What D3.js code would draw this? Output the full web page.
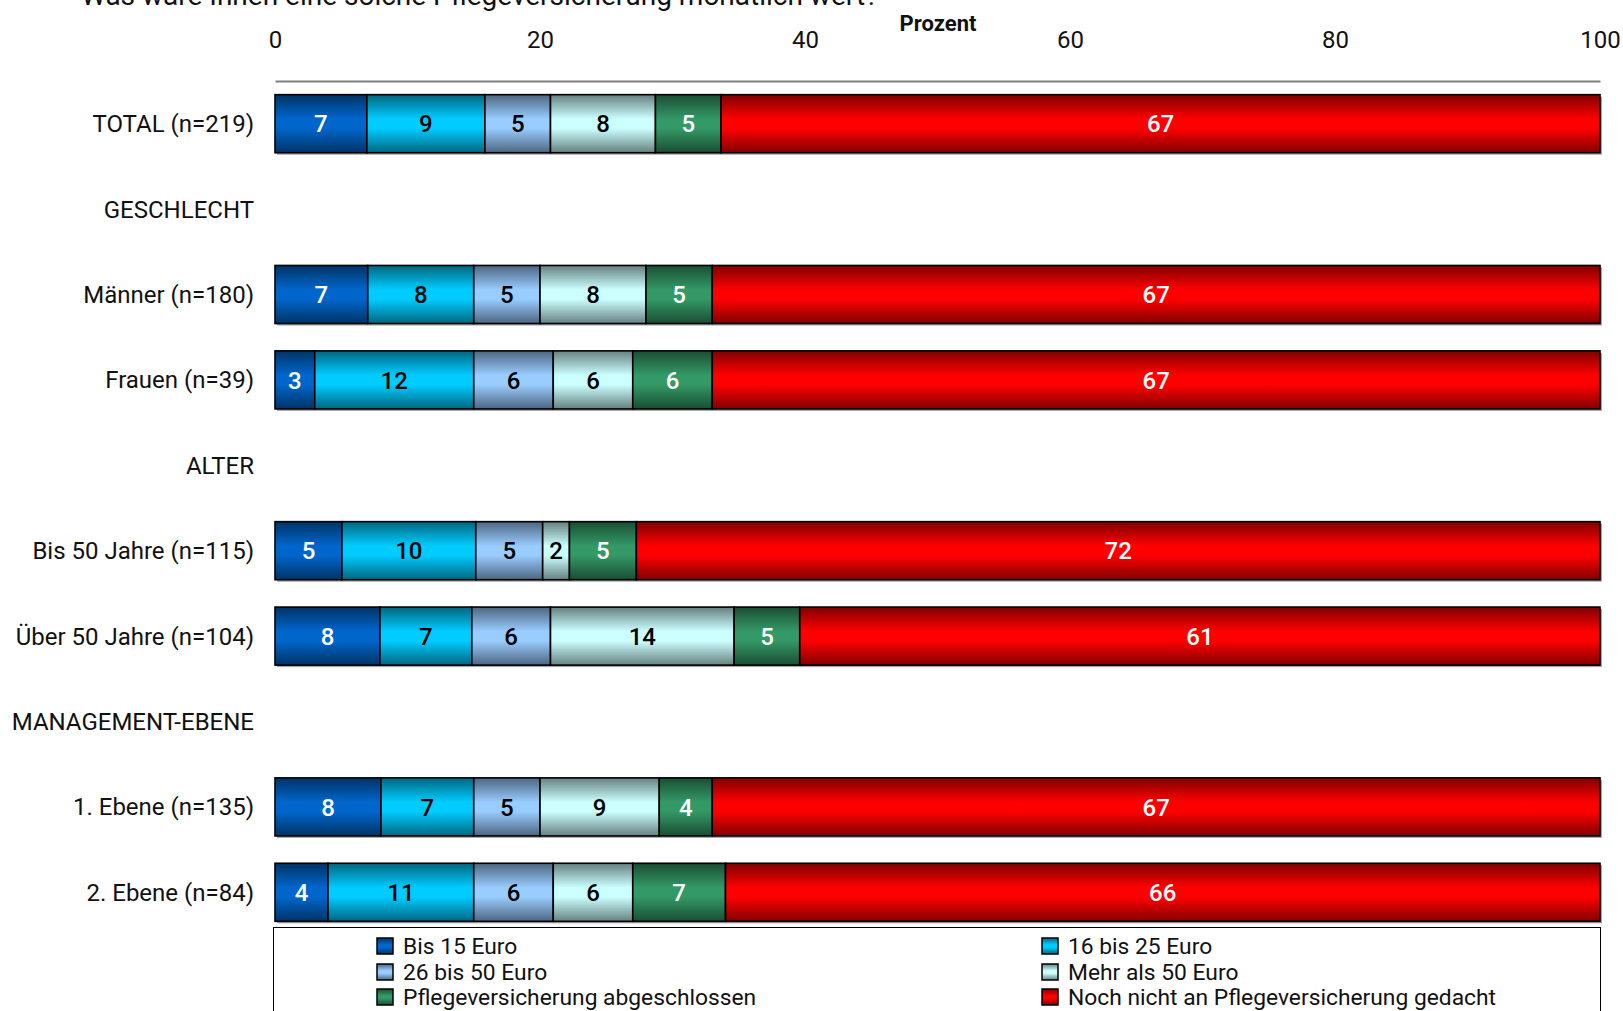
<!DOCTYPE html>
<html>
<head>
<meta charset="utf-8">
<script src="https://cdn.jsdelivr.net/npm/d3@7"></script>
<style>
  html, body { margin: 0; padding: 0; background: #fff; }
  svg { display: block; }
  text { font-family: Roboto, "Noto Sans", sans-serif; fill: #111; }
</style>
</head>
<body>
<svg id="chart" width="1623" height="1011"></svg>
<script>
// Rows of the chart; group headers carry no values
const categories = [
  "TOTAL (n=219)", "GESCHLECHT", "Männer (n=180)", "Frauen (n=39)",
  "ALTER", "Bis 50 Jahre (n=115)", "Über 50 Jahre (n=104)",
  "MANAGEMENT-EBENE", "1. Ebene (n=135)", "2. Ebene (n=84)"
];

const seriesNames = [
  "Bis 15 Euro", "16 bis 25 Euro", "26 bis 50 Euro",
  "Mehr als 50 Euro", "Pflegeversicherung abgeschlossen",
  "Noch nicht an Pflegeversicherung gedacht"
];

// Percent values per series, aligned with categories (null = header row)
const bis15      = [7, null, 7, 3,  null, 5,  8,  null, 8,  4];
const von16bis25 = [9, null, 8, 12, null, 10, 7,  null, 7,  11];
const von26bis50 = [5, null, 5, 6,  null, 5,  6,  null, 5,  6];
const mehrAls50  = [8, null, 8, 6,  null, 2,  14, null, 9,  6];
const abgeschlossen = [5, null, 5, 6, null, 5, 5, null, 4, 7];
const nochNicht  = [67, null, 67, 67, null, 72, 61, null, 67, 66];

const tickLabels = [0, 20, 40, 60, 80, 100];
const title = "Was wäre Ihnen eine solche Pflegeversicherung monatlich wert?";
const axisTitle = "Prozent";

const seriesValues = [bis15, von16bis25, von26bis50, mehrAls50, abgeschlossen, nochNicht];
const seriesColors = ["#0066cc", "#00ccff", "#99ccff", "#ccffff", "#339966", "#ff0000"];
const labelColors  = ["#fff", "#000", "#000", "#000", "#fff", "#fff"];

const svg = d3.select("#chart");

// Scales
const x = d3.scaleLinear().domain([0, 1]).range([275, 1600]);
const y = d3.scaleBand().domain(categories).range([81, 935])
  .paddingInner(0.32).paddingOuter(0.16);

// Vertical sheen gradients: dark edges, bright middle
const defs = svg.append("defs");
seriesColors.forEach((c, i) => {
  const dark = d3.interpolateRgb(c, "#000")(0.5);
  const g = defs.append("linearGradient").attr("id", "grad" + i)
    .attr("x1", 0).attr("y1", 0).attr("x2", 0).attr("y2", 1);
  g.append("stop").attr("offset", "0%").attr("stop-color", dark);
  g.append("stop").attr("offset", "42%").attr("stop-color", c);
  g.append("stop").attr("offset", "58%").attr("stop-color", c);
  g.append("stop").attr("offset", "100%").attr("stop-color", dark);
});

// Table of data rows
const table = categories.map((cat, r) => {
  const row = { cat };
  seriesNames.forEach((s, i) => row[s] = seriesValues[i][r]);
  return row;
}).filter(d => d[seriesNames[0]] != null);

const stacked = d3.stack().keys(seriesNames).offset(d3.stackOffsetExpand)(table);

// Title (partly above the visible area)
svg.append("text").attr("x", 81).attr("y", 5)
  .attr("font-size", 28).text(title);

// Axis title
svg.append("text").attr("x", 938).attr("y", 31)
  .attr("text-anchor", "middle").attr("font-size", 22)
  .attr("font-weight", "bold").text(axisTitle);

// Top axis: tick labels and base line, no tick marks
const axis = d3.axisTop(x).tickValues(tickLabels.map(d => d / 100))
  .tickFormat(d => Math.round(d * 100)).tickSize(0).tickPadding(0);
const axisG = svg.append("g").attr("transform", "translate(0,81)").call(axis);
axisG.select(".domain").attr("stroke", "#7f7f7f").attr("stroke-width", 2);
axisG.selectAll(".tick text").attr("font-size", 24)
  .attr("y", -33).attr("dy", 0).attr("fill", "#111")
  .style("font-family", "Roboto, 'Noto Sans', sans-serif");

// Category labels
svg.append("g").selectAll("text").data(categories).join("text")
  .attr("x", 254).attr("y", d => y(d) + y.bandwidth() / 2)
  .attr("dy", "0.35em").attr("text-anchor", "end")
  .attr("font-size", 24).text(d => d);

// Bar shadows
svg.append("g").selectAll("rect").data(table).join("rect")
  .attr("x", x(0) + 2).attr("y", d => y(d.cat) + 2)
  .attr("width", x(1) - x(0)).attr("height", y.bandwidth())
  .attr("fill", "#a6a6a6");

// Segments
const layers = svg.append("g").selectAll("g").data(stacked).join("g");
layers.selectAll("rect").data((s, i) => s.map(p => ({ p, i, cat: p.data.cat })))
  .join("rect")
  .attr("x", d => x(d.p[0])).attr("y", d => y(d.cat))
  .attr("width", d => x(d.p[1]) - x(d.p[0])).attr("height", y.bandwidth())
  .attr("fill", d => `url(#grad${d.i})`)
  .attr("stroke", "#000").attr("stroke-width", 1.6);

// Value labels
layers.selectAll("text").data((s, i) => s.map(p => ({ p, i, cat: p.data.cat, key: s.key })))
  .join("text")
  .attr("x", d => (x(d.p[0]) + x(d.p[1])) / 2)
  .attr("y", d => y(d.cat) + y.bandwidth() / 2)
  .attr("dy", "0.36em").attr("text-anchor", "middle")
  .attr("font-size", 24).attr("font-weight", 500)
  .style("fill", d => labelColors[d.i])
  .text(d => d.p.data[d.key]);

// Legend
const legend = svg.append("g");
legend.append("rect").attr("x", 273.5).attr("y", 927.5)
  .attr("width", 1327).attr("height", 120)
  .attr("fill", "#fff").attr("stroke", "#000").attr("stroke-width", 1);

const colX = [377, 1042];
const rowY = [946, 972, 997];
const items = legend.selectAll("g.item").data(seriesNames).join("g")
  .attr("class", "item")
  .attr("transform", (d, i) => `translate(${colX[i % 2]},${rowY[Math.floor(i / 2)]})`);
items.append("rect").attr("x", 0).attr("y", -8).attr("width", 16).attr("height", 16)
  .attr("fill", (d, i) => `url(#grad${i})`).attr("stroke", "#000").attr("stroke-width", 1.5);
items.append("text").attr("x", 26).attr("y", 0).attr("dy", "0.36em")
  .attr("font-size", 22.8).text(d => d);
</script>
</body>
</html>
